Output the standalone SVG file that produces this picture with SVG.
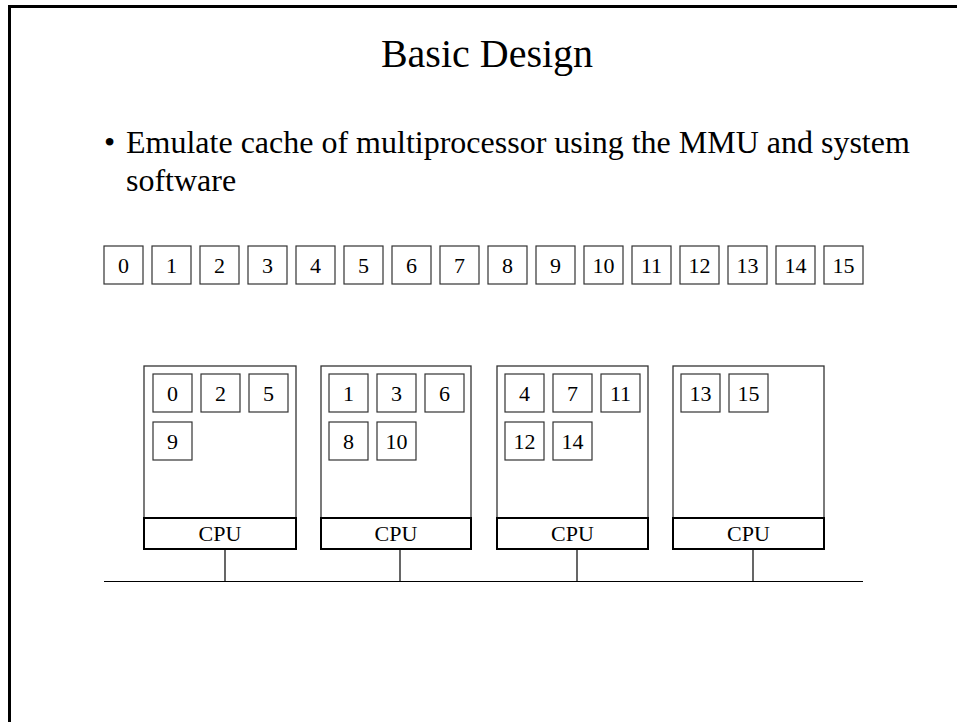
<svg xmlns="http://www.w3.org/2000/svg" width="957" height="722" viewBox="0 0 957 722">
  <style>
    text { font-family: "Liberation Serif", "Times New Roman", serif; fill: #000; }
    .title { font-size: 40px; text-anchor: middle; }
    .body { font-size: 32px; }
    .num { font-size: 22px; text-anchor: middle; }
    .cell { fill: #fff; stroke: #333; stroke-width: 1.2; }
    .proc { fill: #fff; stroke: #333; stroke-width: 1.3; }
    .cpu { fill: #fff; stroke: #000; stroke-width: 2; }
    .wire { stroke: #000; stroke-width: 1.2; fill: none; }
  </style>
  <defs>
    <g id="cellbox"><rect class="cell" x="0" y="0" width="39" height="38"/></g>
  </defs>

  <rect width="957" height="722" fill="#fff"/>
  <!-- slide frame: top and left edges only -->
  <path d="M9.5 722 V6.5 H957" fill="none" stroke="#000" stroke-width="3"/>

  <text class="title" x="487" y="67">Basic Design</text>
  <text class="body" x="104" y="153">•</text>
  <text class="body" x="126" y="153">Emulate cache of multiprocessor using the MMU and system</text>
  <text class="body" x="126" y="191">software</text>

  <!-- shared memory pages 0..15 -->
  <g id="memory">
    <g id="page0"><use href="#cellbox" x="104" y="246"/><text class="num" x="123.5" y="273">0</text></g>
    <g id="page1"><use href="#cellbox" x="152" y="246"/><text class="num" x="171.5" y="273">1</text></g>
    <g id="page2"><use href="#cellbox" x="200" y="246"/><text class="num" x="219.5" y="273">2</text></g>
    <g id="page3"><use href="#cellbox" x="248" y="246"/><text class="num" x="267.5" y="273">3</text></g>
    <g id="page4"><use href="#cellbox" x="296" y="246"/><text class="num" x="315.5" y="273">4</text></g>
    <g id="page5"><use href="#cellbox" x="344" y="246"/><text class="num" x="363.5" y="273">5</text></g>
    <g id="page6"><use href="#cellbox" x="392" y="246"/><text class="num" x="411.5" y="273">6</text></g>
    <g id="page7"><use href="#cellbox" x="440" y="246"/><text class="num" x="459.5" y="273">7</text></g>
    <g id="page8"><use href="#cellbox" x="488" y="246"/><text class="num" x="507.5" y="273">8</text></g>
    <g id="page9"><use href="#cellbox" x="536" y="246"/><text class="num" x="555.5" y="273">9</text></g>
    <g id="page10"><use href="#cellbox" x="584" y="246"/><text class="num" x="603.5" y="273">10</text></g>
    <g id="page11"><use href="#cellbox" x="632" y="246"/><text class="num" x="651.5" y="273">11</text></g>
    <g id="page12"><use href="#cellbox" x="680" y="246"/><text class="num" x="699.5" y="273">12</text></g>
    <g id="page13"><use href="#cellbox" x="728" y="246"/><text class="num" x="747.5" y="273">13</text></g>
    <g id="page14"><use href="#cellbox" x="776" y="246"/><text class="num" x="795.5" y="273">14</text></g>
    <g id="page15"><use href="#cellbox" x="824" y="246"/><text class="num" x="843.5" y="273">15</text></g>
  </g>

  <!-- processor nodes with their cached pages -->
  <g id="node1">
    <rect class="proc" x="144" y="366" width="152" height="152"/>
    <rect class="cpu" x="144" y="518" width="152" height="31"/>
    <text class="num" x="220" y="541">CPU</text>
    <use href="#cellbox" x="153" y="374"/><text class="num" x="172.5" y="401">0</text>
    <use href="#cellbox" x="201" y="374"/><text class="num" x="220.5" y="401">2</text>
    <use href="#cellbox" x="249" y="374"/><text class="num" x="268.5" y="401">5</text>
    <use href="#cellbox" x="153" y="422"/><text class="num" x="172.5" y="449">9</text>
  </g>
  <g id="node2">
    <rect class="proc" x="321" y="366" width="150" height="152"/>
    <rect class="cpu" x="321" y="518" width="150" height="31"/>
    <text class="num" x="396" y="541">CPU</text>
    <use href="#cellbox" x="329" y="374"/><text class="num" x="348.5" y="401">1</text>
    <use href="#cellbox" x="377" y="374"/><text class="num" x="396.5" y="401">3</text>
    <use href="#cellbox" x="425" y="374"/><text class="num" x="444.5" y="401">6</text>
    <use href="#cellbox" x="329" y="422"/><text class="num" x="348.5" y="449">8</text>
    <use href="#cellbox" x="377" y="422"/><text class="num" x="396.5" y="449">10</text>
  </g>
  <g id="node3">
    <rect class="proc" x="497" y="366" width="151" height="152"/>
    <rect class="cpu" x="497" y="518" width="151" height="31"/>
    <text class="num" x="572.5" y="541">CPU</text>
    <use href="#cellbox" x="505" y="374"/><text class="num" x="524.5" y="401">4</text>
    <use href="#cellbox" x="553" y="374"/><text class="num" x="572.5" y="401">7</text>
    <use href="#cellbox" x="601" y="374"/><text class="num" x="620.5" y="401">11</text>
    <use href="#cellbox" x="505" y="422"/><text class="num" x="524.5" y="449">12</text>
    <use href="#cellbox" x="553" y="422"/><text class="num" x="572.5" y="449">14</text>
  </g>
  <g id="node4">
    <rect class="proc" x="673" y="366" width="151" height="152"/>
    <rect class="cpu" x="673" y="518" width="151" height="31"/>
    <text class="num" x="748.5" y="541">CPU</text>
    <use href="#cellbox" x="681" y="374"/><text class="num" x="700.5" y="401">13</text>
    <use href="#cellbox" x="729" y="374"/><text class="num" x="748.5" y="401">15</text>
  </g>

  <!-- system bus and drops -->
  <g id="connectors">
    <path class="wire" d="M104 581.5 H863"/>
    <path class="wire" d="M225 549 V581.5"/>
    <path class="wire" d="M400 549 V581.5"/>
    <path class="wire" d="M577 549 V581.5"/>
    <path class="wire" d="M753 549 V581.5"/>
  </g>
</svg>
